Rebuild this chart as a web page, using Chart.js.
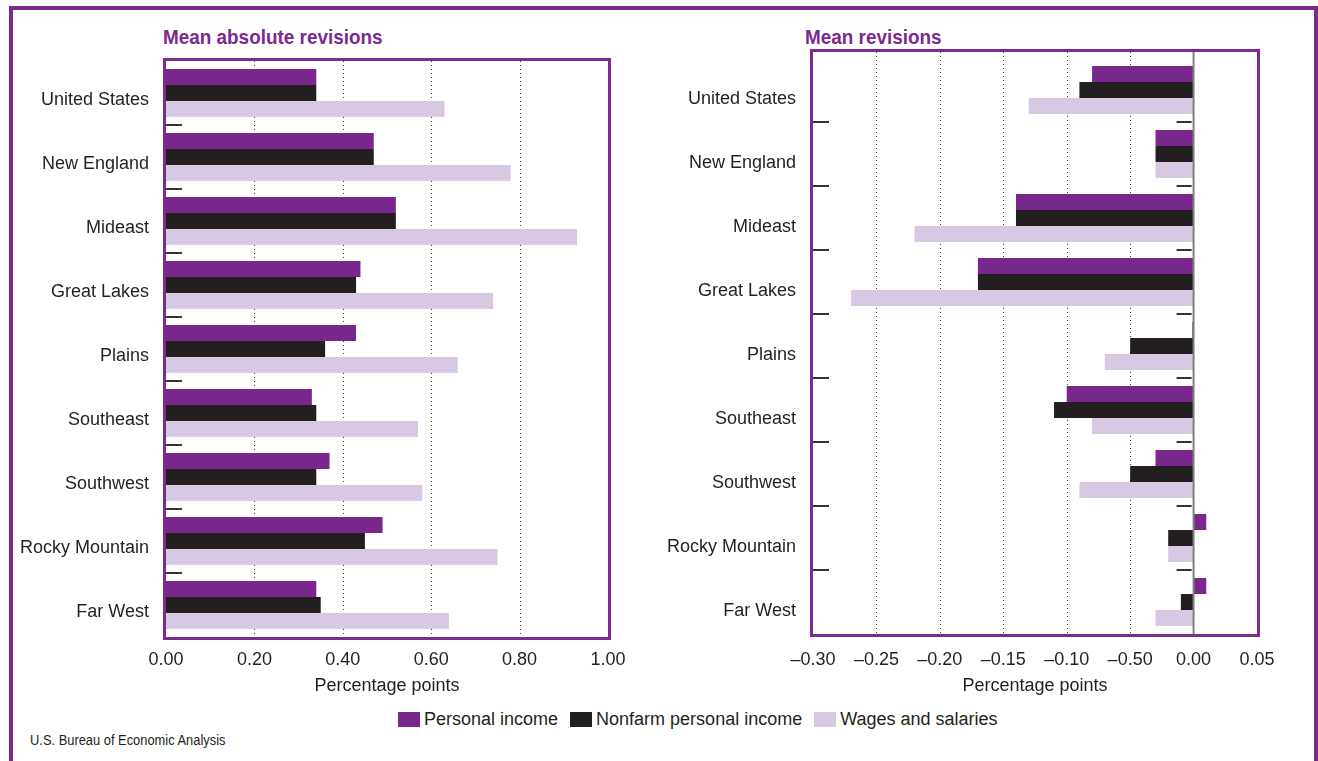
<!DOCTYPE html>
<html>
<head>
<meta charset="utf-8">
<script src="https://cdn.jsdelivr.net/npm/chart.js@4.4.1/dist/chart.umd.min.js"></script>
<style>
  body { margin: 0; width: 1318px; height: 761px; position: relative; overflow: hidden; background: #fff;
         font-family: "Liberation Sans", Arial, sans-serif; color: #231f20; }
  #pageFrame { position: absolute; left: 9px; top: 6px; width: 1301px; height: 800px;
               border: 4px solid #7b2a8e; border-bottom: none; }
  canvas { position: absolute; top: 0; }
  .title { position: absolute; top: 26px; font-weight: bold; font-size: 21px; line-height: 21px;
           color: #7b2a8e; transform: scaleX(0.9); transform-origin: left top; white-space: nowrap; }
  #legend { position: absolute; left: 398px; top: 709px; display: flex; align-items: center; font-size: 18px; }
  #legend .item { display: flex; align-items: center; margin-right: 12px; }
  #legend .swatch { width: 22px; height: 15px; margin-right: 4px; }
  #source { position: absolute; left: 30px; top: 732px; font-size: 14px; transform: scaleX(0.92);
            transform-origin: left top; white-space: nowrap; }
</style>
</head>
<body>
<div id="pageFrame"></div>
<div class="title" style="left:163px">Mean absolute revisions</div>
<div class="title" style="left:805px">Mean revisions</div>
<canvas id="chartAbs" width="660" height="700" style="left:0;width:660px;height:700px"></canvas>
<canvas id="chartMean" width="658" height="700" style="left:660px;width:658px;height:700px"></canvas>
<div id="legend"></div>
<div id="source">U.S. Bureau of Economic Analysis</div>
<script>
const regions = ['United States', 'New England', 'Mideast', 'Great Lakes', 'Plains',
                 'Southeast', 'Southwest', 'Rocky Mountain', 'Far West']
const seriesNames = ['Personal income', 'Nonfarm personal income', 'Wages and salaries']
const seriesColors = ['#78288c', '#231f20', '#d8c9e3']

// mean absolute revisions
const absPersonal = [0.34, 0.47, 0.52, 0.44, 0.43, 0.33, 0.37, 0.49, 0.34]
const absNonfarm  = [0.34, 0.47, 0.52, 0.43, 0.36, 0.34, 0.34, 0.45, 0.35]
const absWages    = [0.63, 0.78, 0.93, 0.74, 0.66, 0.57, 0.58, 0.75, 0.64]

// mean revisions
const meanPersonal = [-0.08, -0.03, -0.14, -0.17, -0.001, -0.10, -0.03, 0.01, 0.01]
const meanNonfarm  = [-0.09, -0.03, -0.14, -0.17, -0.05, -0.11, -0.05, -0.02, -0.01]
const meanWages    = [-0.13, -0.03, -0.22, -0.27, -0.07, -0.08, -0.09, -0.02, -0.03]

const absTickValues = [0, 0.2, 0.4, 0.6, 0.8, 1.0]
const absTickLabels = ['0.00', '0.20', '0.40', '0.60', '0.80', '1.00']
const meanTickValues = [-0.30, -0.25, -0.20, -0.15, -0.10, -0.05, 0, 0.05]
const meanTickLabels = ['\u20130.30', '\u20130.25', '\u20130.20', '\u20130.15', '\u20130.10', '\u20130.50', '0.00', '0.05']

Chart.defaults.font.family = '"Liberation Sans", Arial, sans-serif'
Chart.defaults.font.size = 18
Chart.defaults.color = '#231f20'

const purple = '#7b2a8e'

const framePlugin = {
    id: 'frame',
    beforeDatasetsDraw(chart, args, opts) {
        const {ctx, chartArea: a, scales: {x}} = chart
        ctx.save()
        ctx.strokeStyle = '#444'
        ctx.lineWidth = 1
        ctx.setLineDash([1, 3])
        opts.grid.forEach(v => {
            const px = Math.round(x.getPixelForValue(v)) + 0.5
            ctx.beginPath()
            ctx.moveTo(px, a.top - opts.padTop)
            ctx.lineTo(px, a.bottom)
            ctx.stroke()
        })
        ctx.restore()
    },
    afterDatasetsDraw(chart, args, opts) {
        const {ctx, chartArea: a, scales: {x, y}} = chart
        ctx.save()
        if (opts.zero) {
            const zx = x.getPixelForValue(0)
            ctx.strokeStyle = '#808080'
            ctx.lineWidth = 2
            ctx.beginPath()
            ctx.moveTo(zx, a.top - opts.padTop)
            ctx.lineTo(zx, a.bottom)
            ctx.stroke()
        }
        ctx.strokeStyle = '#333'
        ctx.lineWidth = 2
        for (let i = 0; i < regions.length - 1; i++) {
            const yy = Math.round((y.getPixelForValue(i) + y.getPixelForValue(i + 1)) / 2)
            ctx.beginPath()
            ctx.moveTo(a.left, yy)
            ctx.lineTo(a.left + 16, yy)
            if (opts.zero) {
                const zx = x.getPixelForValue(0)
                ctx.moveTo(zx - 17, yy)
                ctx.lineTo(zx - 2, yy)
            }
            ctx.stroke()
        }
        ctx.strokeStyle = purple
        ctx.lineWidth = 3
        ctx.strokeRect(a.left - 1.5, a.top - opts.padTop - 1.5,
            a.right - a.left + 3, a.bottom - a.top + opts.padTop + 3)
        ctx.restore()
    }
}

function makeDatasets(values) {
    return values.map((data, i) => ({
        label: seriesNames[i],
        data: data,
        backgroundColor: seriesColors[i],
        borderWidth: 0,
        categoryPercentage: 0.75,
        barPercentage: 1.0
    }))
}

function makeChart(canvasId, values, tickValues, tickLabels, o) {
    return new Chart(document.getElementById(canvasId), {
        type: 'bar',
        data: { labels: regions, datasets: makeDatasets(values) },
        plugins: [framePlugin],
        options: {
            indexAxis: 'y',
            responsive: false,
            animation: false,
            layout: { padding: { left: 0, top: o.top, right: o.right, bottom: 0 } },
            plugins: {
                legend: { display: false },
                tooltip: { enabled: false },
                frame: { grid: tickValues.slice(1, -1).filter(v => v !== 0), zero: o.zero, padTop: o.padTop }
            },
            scales: {
                x: {
                    min: tickValues[0],
                    max: tickValues[tickValues.length - 1],
                    afterBuildTicks: s => { s.ticks = tickValues.map(v => ({ value: v })) },
                    afterFit: s => { s.height = o.xHeight },
                    grid: { display: false },
                    border: { display: false },
                    ticks: {
                        padding: o.tickPad,
                        autoSkip: false,
                        maxRotation: 0,
                        callback: (v, i) => tickLabels[i]
                    },
                    title: { display: true, text: 'Percentage points', padding: { top: 0, bottom: 3 } }
                },
                y: {
                    afterFit: s => { s.width = o.yWidth },
                    grid: { display: false },
                    border: { display: false },
                    ticks: { padding: 9, labelOffset: o.labelOffset, autoSkip: false }
                }
            }
        }
    })
}

makeChart('chartAbs', [absPersonal, absNonfarm, absWages], absTickValues, absTickLabels,
    { top: 61, right: 52, xHeight: 63, yWidth: 166, tickPad: 4, labelOffset: 7, zero: false, padTop: 0 })
makeChart('chartMean', [meanPersonal, meanNonfarm, meanWages], meanTickValues, meanTickLabels,
    { top: 58, right: 61, xHeight: 66, yWidth: 153, tickPad: 7, labelOffset: 9, zero: true, padTop: 6 })

const legend = document.getElementById('legend')
seriesNames.forEach((name, i) => {
    const item = document.createElement('div')
    item.className = 'item'
    item.innerHTML = `<span class="swatch" style="background:${seriesColors[i]}"></span><span>${name}</span>`
    legend.appendChild(item)
})
</script>
</body>
</html>
